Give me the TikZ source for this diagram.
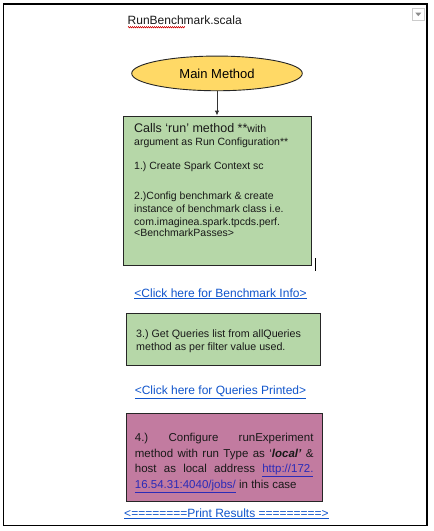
\documentclass[tikz,border=0pt]{standalone}
\usepackage{fontspec}
\setmainfont{Liberation Sans}
\frenchspacing
\usetikzlibrary{shapes.geometric,arrows.meta,decorations.pathmorphing}
\definecolor{ellyellow}{HTML}{FFD966}
\definecolor{boxgreen}{HTML}{B6D7A8}
\definecolor{boxmauve}{HTML}{C27BA0}
\definecolor{linkblue}{HTML}{1155CC}
\definecolor{urlblue}{HTML}{2B2BB8}
\tikzset{
  frame/.style={draw=black, line width=1.4pt},
  stepbox/.style={draw=black!85, line width=0.9pt, rectangle, inner sep=0pt},
  tline/.style={anchor=base west, inner sep=0pt, text=black!90},
  linktext/.style={anchor=base, inner sep=0pt, text=linkblue, font=\fontsize{12}{14}\selectfont},
}
\begin{document}
\begin{tikzpicture}[x=1pt,y=-1pt]
\useasboundingbox (0,0) rectangle (434,531);
\fill[white] (0,0) rectangle (434,531);
% outer frame
\draw[frame] (3.3,4) rectangle (427,525.7);
% dropdown icon
\draw[draw=black!20, fill=white, line width=0.6pt] (412.3,8.3) rectangle (424.3,20.3);
\fill[black!45] (415.3,12.6) -- (421.3,12.6) -- (418.3,16.2) -- cycle;
% title
\node[tline, font=\fontsize{12}{14}\selectfont] (title) at (127.5,24.3) {RunBenchmark.scala};
\draw[red!80!black, line width=0.5pt, decorate, decoration={zigzag, amplitude=0.7pt, segment length=2pt}] (128,27.2) -- (185,27.2);
% main method ellipse
\node[ellipse, draw=black!85, line width=0.9pt, fill=ellyellow, minimum width=170.6pt, minimum height=34.7pt, inner sep=0pt,
      font=\fontsize{13}{15}\selectfont] (main) at (217,73.4) {Main Method};
% box 1
\node[stepbox, fill=boxgreen, minimum width=188.4pt, minimum height=149pt] (box1) at (217.5,190.5) {};
\draw[black!80, line width=0.9pt, -{Latex[length=5pt,width=4.5pt]}] (main.south) -- (main.south |- box1.north);
\node[tline, font=\fontsize{12.5}{14}\selectfont] (b1l1) at (134,132.5) {Calls ‘run’ method **{\fontsize{10.5}{12}\selectfont with}};
\begin{scope}[every node/.append style={font=\fontsize{10.5}{12}\selectfont}]
\node[tline] (b1l2) at (134,145.8) {argument as Run Configuration**};
\node[tline] (b1l3) at (134,169.8) {1.) Create Spark Context sc};
\node[tline] (b1l4) at (134,199.3) {2.)Config benchmark \& create};
\node[tline] (b1l5) at (134,212.6) {instance of benchmark class i.e.};
\node[tline] (b1l6) at (134,225.3) {com.imaginea.spark.tpcds.perf.};
\node[tline] (b1l7) at (134,236.9) {<BenchmarkPasses>};
\end{scope}
% text cursor
\draw[black, line width=1.6pt] (315.5,258) -- (315.5,271);
% link 1
\node[linktext] (link1) at (220.5,297) {\underline{<Click here for Benchmark Info>}};
% box 2
\node[stepbox, fill=boxgreen, minimum width=194.7pt, minimum height=51.7pt] (box2) at (223.4,339.2) {};
\begin{scope}[every node/.append style={font=\fontsize{10.7}{12}\selectfont}]
\node[tline] (b2l1) at (136,337.5) {3.) Get Queries list from allQueries};
\node[tline] (b2l2) at (136,350.8) {method as per filter value used.};
\end{scope}
% link 2
\node[linktext] (link2) at (220.5,394.3) {\underline{<Click here for Queries Printed>}};
% box 3
\node[stepbox, fill=boxmauve, minimum width=196pt, minimum height=88.4pt] (box3) at (224,457.5) {};
\begin{scope}[every node/.append style={font=\fontsize{11.5}{13}\selectfont}]
\node[tline] (b3l1) at (134.7,441.7) {\makebox[178.6pt][s]{4.) Configure runExperiment}};
\node[tline] (b3l2) at (134.7,457.3) {\makebox[178.6pt][s]{method with run Type as ‘\textbf{\textit{local’}} \&}};
\node[tline] (b3l3) at (134.7,472.5) {\makebox[178.6pt][s]{host as local address {\color{urlblue}\underline{http://172.}}}};
\node[tline] (b3l4) at (134.7,488.3) {{\color{urlblue}\underline{16.54.31:4040/jobs/}} in this case};
\end{scope}
% link 3
\node[linktext] (link3) at (226.5,517) {\underline{<========Print Results =========>}};
\end{tikzpicture}
\end{document}
